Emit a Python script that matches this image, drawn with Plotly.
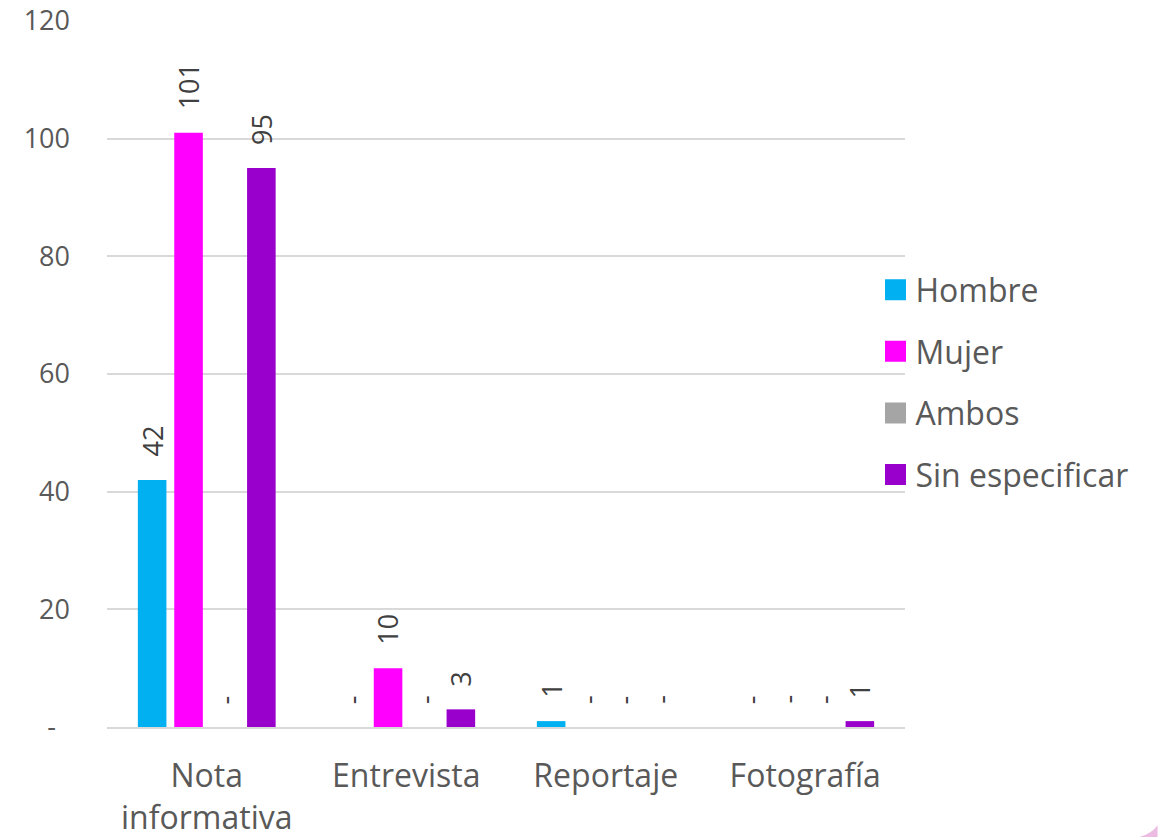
import plotly.graph_objects as go

# Counts of published items by genre and by gender of the person featured
categories = ["Nota<br>informativa", "Entrevista", "Reportaje", "Fotografía"]
series_names = ["Hombre", "Mujer", "Ambos", "Sin especificar"]
hombre = [42, 0, 1, 0]
mujer = [101, 10, 0, 0]
ambos = [0, 0, 0, 0]
sin_especificar = [95, 3, 0, 1]
series_values = [hombre, mujer, ambos, sin_especificar]
series_colors = ["#00B0F0", "#FF00FF", "#A5A5A5", "#9900CC"]

y_tickvals = [0, 20, 40, 60, 80, 100, 120]
y_ticktext = ["-\u00a0\u00a0", "20", "40", "60", "80", "100", "120"]

FONT = "Open Sans"
TEXT_GREY = "#595959"
LABEL_GREY = "#404040"
GRID = "#D9D9D9"

BARGAP = 0.27
BARGROUPGAP = 0.215

fig = go.Figure()

n = len(series_names)
slot = (1 - BARGAP) / n
annotations = []
for i, (name, vals, color) in enumerate(zip(series_names, series_values, series_colors)):
    fig.add_trace(go.Bar(
        x=list(range(len(categories))),
        y=vals,
        name=name,
        marker=dict(color=color, line=dict(width=0)),
        showlegend=False,
        hoverinfo="x+y+name",
    ))
    # legend entry with a larger square swatch (outline thickens the square)
    fig.add_trace(go.Scatter(
        x=[None], y=[None],
        mode="markers",
        name=name,
        legendgroup=name,
        marker=dict(symbol="square", size=16, color=color,
                    line=dict(width=5, color=color)),
        showlegend=True,
    ))
    # value labels above each bar ("-" for zero)
    offset = (i - (n - 1) / 2) * slot
    for k, v in enumerate(vals):
        annotations.append(dict(
            x=k + offset, y=v, xref="x", yref="y",
            text=str(v) if v else "-",
            textangle=-90,
            showarrow=False,
            xanchor="center", yanchor="bottom",
            yshift=21,
            font=dict(family=FONT, size=27, color=LABEL_GREY),
        ))

# soft pink corner ornament
shapes = [dict(
    type="path", xref="paper", yref="paper",
    path="M 1.294 -0.1558 Q 1.31 -0.150 1.3165 -0.139 L 1.3165 -0.1558 Z",
    fillcolor="#EBBBE2", line=dict(width=0), layer="below",
)]

fig.update_layout(
    width=1158, height=837,
    margin=dict(l=107, r=253, t=21, b=110, autoexpand=False),
    paper_bgcolor="white", plot_bgcolor="white",
    barmode="group", bargap=BARGAP, bargroupgap=BARGROUPGAP,
    font=dict(family=FONT, color=TEXT_GREY),
    showlegend=True,
    legend=dict(
        x=0.963, xanchor="left", y=0.488, yanchor="middle",
        font=dict(family=FONT, size=32, color=TEXT_GREY),
        tracegroupgap=17,
        bgcolor="rgba(0,0,0,0)",
    ),
    annotations=annotations,
    shapes=shapes,
)

fig.update_xaxes(
    tickmode="array",
    tickvals=list(range(len(categories))),
    ticktext=categories,
    range=[-0.5, len(categories) - 0.5],
    showgrid=False, zeroline=False,
    showline=True, linecolor=GRID, linewidth=2,
    ticks="", ticklabelstandoff=20,
    automargin=False,
    tickfont=dict(family=FONT, size=32, color=TEXT_GREY),
)
fig.update_yaxes(
    range=[0, 120],
    tickmode="array", tickvals=y_tickvals, ticktext=y_ticktext,
    showgrid=True, gridcolor=GRID, gridwidth=2,
    zeroline=False, showline=False, ticks="",
    ticklabelstandoff=36,
    automargin=False,
    tickfont=dict(family=FONT, size=27, color=TEXT_GREY),
)

fig.write_html("out.html")
